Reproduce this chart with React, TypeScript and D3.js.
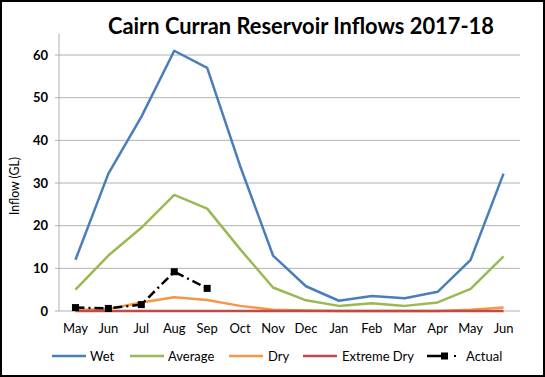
import React from "react";
import * as d3 from "d3";

const months = ["May", "Jun", "Jul", "Aug", "Sep", "Oct", "Nov", "Dec", "Jan", "Feb", "Mar", "Apr", "May", "Jun"];
const wet = [12, 32.2, 45.5, 61, 57, 34, 13, 5.8, 2.4, 3.5, 3, 4.5, 12, 32.2];
const average = [5, 13, 19.5, 27.2, 24, 14.5, 5.5, 2.5, 1.2, 1.8, 1.2, 2, 5.2, 12.8];
const dry = [0.2, 0.5, 2, 3.2, 2.6, 1.2, 0.3, 0.1, 0, 0, 0, 0, 0.3, 0.8];
const extremeDry = [0, 0, 0, 0, 0, 0, 0, 0, 0, 0, 0, 0, 0, 0];
const actual = [0.8, 0.6, 1.5, 9.2, 5.3];
const yTicks = [0, 10, 20, 30, 40, 50, 60];

const seriesNames = ["Wet", "Average", "Dry", "Extreme Dry"];
const seriesColors = ["#4A7EBB", "#98B954", "#F79646", "#BE4B48"];

export default function App() {
  const W = 545, H = 377;
  const left = 59, right = 520, top = 33.7, bottom = 311;
  const idx = months.map((_, i) => String(i));
  const x = d3.scaleBand().domain(idx).range([left, right]);
  const cx = (i: number) => (x(String(i)) as number) + x.bandwidth() / 2;
  const y = d3.scaleLinear().domain([0, 65]).range([bottom, top]);
  const line = d3.line<number>().x((_, i) => cx(i)).y((d) => y(d));
  const series = [wet, average, dry, extremeDry];

  const legendItems = [
    { name: "Wet", lx: 52, tx: 90 },
    { name: "Average", lx: 130, tx: 168 },
    { name: "Dry", lx: 229, tx: 268 },
    { name: "Extreme Dry", lx: 303, tx: 342 },
  ];
  const ly = 357;
  const font = "Lato, 'Open Sans', sans-serif";

  return (
    <svg width={W} height={H} style={{ position: "absolute", left: 0, top: 0 }} fontFamily={font}>
      <rect x={1} y={1} width={W - 2} height={H - 2} fill="#fff" stroke="#000" strokeWidth={2} />
      <text x={301} y={34} textAnchor="middle" fontSize={22} fontWeight="bold" textLength={386} lengthAdjust="spacingAndGlyphs" fill="#000">
        Cairn Curran Reservoir Inflows 2017-18
      </text>
      {yTicks.map((t) => (
        <g key={t}>
          <line x1={left - 4} x2={right} y1={y(t)} y2={y(t)} stroke="#B0B0B0" strokeWidth={1} />
          <text x={48} y={y(t) + 4.5} textAnchor="end" fontSize={13} fontWeight="bold" fill="#000">{t}</text>
        </g>
      ))}
      <line x1={left} x2={left} y1={top} y2={bottom} stroke="#B0B0B0" strokeWidth={1} />
      {months.map((m, i) => (
        <text key={i} x={cx(i)} y={333} textAnchor="middle" fontSize={13} fill="#000">{m}</text>
      ))}
      <text transform={`translate(19,186) rotate(-90)`} textAnchor="middle" fontSize={13} textLength={58} lengthAdjust="spacingAndGlyphs" fill="#000">Inflow (GL)</text>
      {series.map((s, k) => (
        <path key={k} d={line(s) || ""} fill="none" stroke={seriesColors[k]} strokeWidth={2.5} strokeLinejoin="round" />
      ))}
      <path d={line(actual) || ""} fill="none" stroke="#000" strokeWidth={2.5} strokeDasharray="9,4,2,4" />
      {actual.map((v, i) => (
        <rect key={i} x={cx(i) - 3.5} y={y(v) - 3.5} width={7} height={7} fill="#000" />
      ))}
      {legendItems.map((it, k) => (
        <g key={it.name}>
          <line x1={it.lx} x2={it.lx + 34} y1={ly - 1} y2={ly - 1} stroke={seriesColors[k]} strokeWidth={2.5} />
          <text x={it.tx} y={ly + 4} fontSize={13} fill="#000">{seriesNames[k]}</text>
        </g>
      ))}
      <g>
        <line x1={427} x2={443} y1={ly - 1} y2={ly - 1} stroke="#000" strokeWidth={2.5} />
        <rect x={441} y={ly - 4.5} width={7} height={7} fill="#000" />
        <rect x={454} y={ly - 2} width={2} height={2} fill="#000" />
        <text x={466} y={ly + 4} fontSize={13} fill="#000">Actual</text>
      </g>
    </svg>
  );
}
